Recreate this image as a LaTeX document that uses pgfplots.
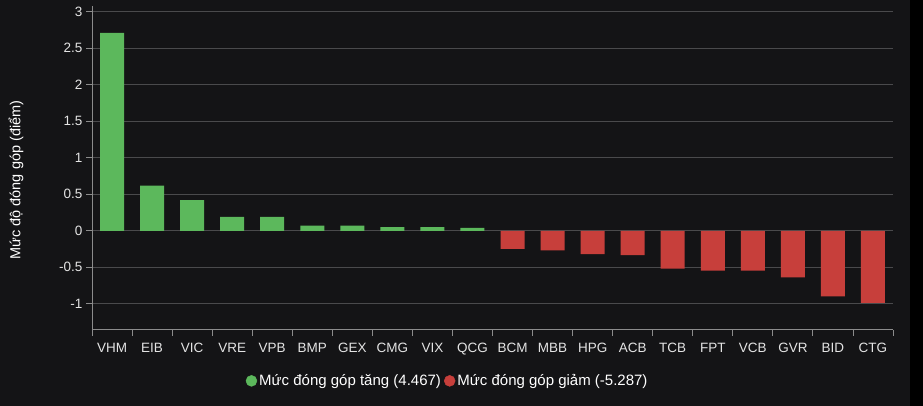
\documentclass[border=0pt]{standalone}
\usepackage{pgfplots}
\pgfplotsset{compat=1.18}
\usepackage{fontspec}
\setmainfont{Liberation Sans}
\definecolor{bgc}{HTML}{141416}
\definecolor{gridc}{HTML}{4A4A4C}
\definecolor{axisc}{HTML}{8C8C8C}
\definecolor{txtc}{HTML}{E4E4E4}
\definecolor{upc}{HTML}{5CB85C}
\definecolor{downc}{HTML}{C73F3B}
\begin{document}
\begin{tikzpicture}
\fill[bgc] (0,0) rectangle (923pt,406pt);
\fill[black] (910pt,0) rectangle (923pt,406pt);
\begin{axis}[
  at={(92pt,76pt)}, anchor=south west,
  scale only axis, width=801pt, height=324pt,
  xmin=-0.5, xmax=19.5, ymin=-1.36, ymax=3.08,
  axis x line*=bottom, axis y line*=left,
  axis line style={axisc, line width=1pt},
  ytick={-1,-0.5,0,0.5,1,1.5,2,2.5,3},
  yticklabels={-1,-0.5,0,0.5,1,1.5,2,2.5,3},
  ymajorgrids, major grid style={gridc, line width=0.9pt},
  xtick={0,...,19},
  xticklabels={VHM,EIB,VIC,VRE,VPB,BMP,GEX,CMG,VIX,QCG,BCM,MBB,HPG,ACB,TCB,FPT,VCB,GVR,BID,CTG},
  minor xtick={-0.5,0.5,...,19.5},
  major x tick style={draw=none},
  minor x tick style={axisc, line width=0.9pt},
  minor tick length=6pt,
  major y tick style={axisc, line width=0.9pt},
  major tick length=6pt,
  tick align=outside,
  tick label style={font=\fontsize{13.5}{15}\selectfont, text=txtc},
  xticklabel style={yshift=-4pt},
  /pgf/number format/assume math mode=true,
  ylabel={Mức độ đóng góp (điểm)},
  ylabel style={at={(rel axis cs:-0.095,0.463)}, rotate=0, anchor=center, font=\fontsize{14.5}{16}\selectfont, text=white},
  ybar, bar width=24pt,
  legend style={at={(0.444,-0.157)}, anchor=center, draw=none, fill=none, text=white,
    font=\fontsize{15}{17}\selectfont, legend columns=2,
    /tikz/every even column/.append style={column sep=1pt}},
  legend image code/.code={\fill[#1] (0.45em,0) circle (5.5pt);},
]
\addplot[ybar, bar shift=0pt, fill=upc, draw=none, forget plot] coordinates {
(0,2.71) (1,0.62) (2,0.42) (3,0.19) (4,0.19) (5,0.07) (6,0.07) (7,0.05) (8,0.05) (9,0.04)};
\addplot[ybar, bar shift=0pt, fill=downc, draw=none, forget plot] coordinates {
(10,-0.25) (11,-0.27) (12,-0.32) (13,-0.335) (14,-0.52) (15,-0.545) (16,-0.545) (17,-0.64) (18,-0.90) (19,-0.99)};
\addlegendimage{upc}
\addlegendentry{Mức đóng góp tăng (4.467)}
\addlegendimage{downc}
\addlegendentry{Mức đóng góp giảm (-5.287)}
\end{axis}
\end{tikzpicture}
\end{document}
